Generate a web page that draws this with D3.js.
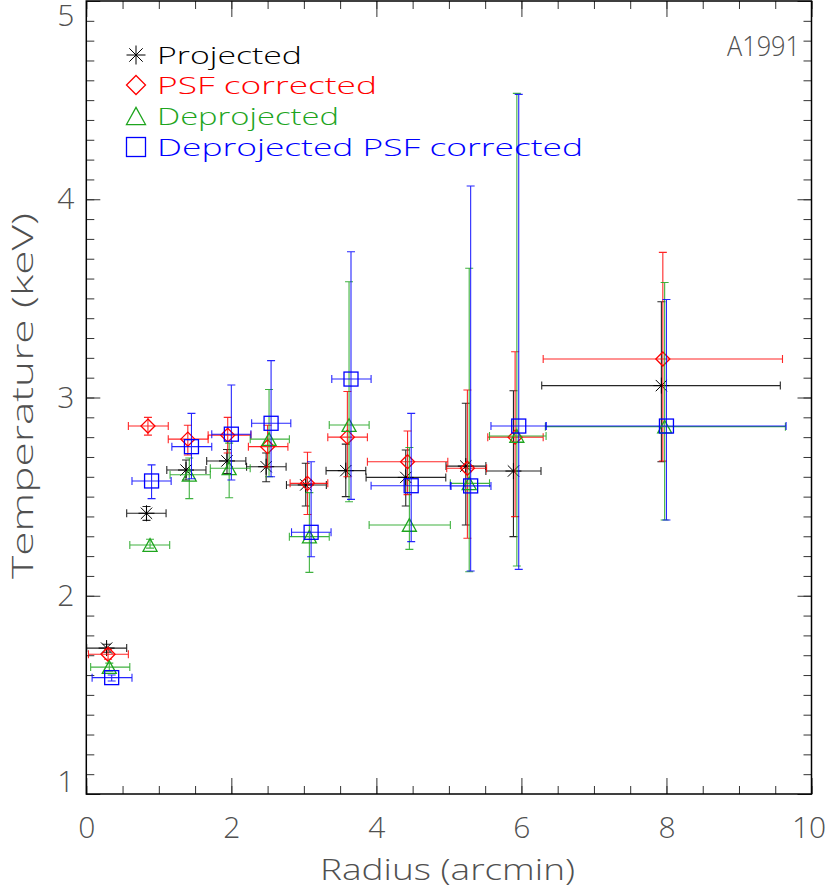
<!DOCTYPE html>
<html>
<head>
<meta charset="utf-8">
<script src="https://cdn.jsdelivr.net/npm/d3@7"></script>
<style>
  body { margin: 0; background: #fff; }
  svg text { font-family: "Open Sans", "DejaVu Sans", sans-serif; font-weight: 300; }
</style>
</head>
<body>
<svg id="chart" width="830" height="890"></svg>
<script>
// ---- data ----
var seriesNames = ["Projected", "PSF corrected", "Deprojected", "Deprojected PSF corrected"];
var seriesColors = ["#000000", "#ff0000", "#1ea51e", "#0000ff"];
var seriesSymbols = ["asterisk", "diamond", "triangle", "square"];

// Projected
var projX   = [0.28, 0.83, 1.375, 1.94, 2.48, 3.026, 3.578, 4.405, 5.233, 5.89, 7.93];
var projXlo = [0.005, 0.557, 1.11, 1.66, 2.21, 2.76, 3.306, 3.858, 4.96, 5.51, 6.28];
var projXhi = [0.557, 1.10, 1.65, 2.20, 2.755, 3.31, 3.854, 4.957, 5.51, 6.27, 9.57];
var projT   = [1.736, 2.416, 2.634, 2.68, 2.651, 2.559, 2.631, 2.597, 2.654, 2.629, 3.06];
var projTlo = [1.715, 2.38, 2.584, 2.617, 2.575, 2.453, 2.50, 2.453, 2.357, 2.298, 2.676];
var projThi = [1.755, 2.45, 2.685, 2.738, 2.72, 2.668, 2.765, 2.735, 2.971, 3.034, 3.483];

// PSF corrected
var psfX   = [0.30, 0.85, 1.40, 1.95, 2.50, 3.05, 3.60, 4.43, 5.255, 5.913, 7.95];
var psfXlo = [0.03, 0.58, 1.13, 1.68, 2.235, 2.81, 3.33, 3.876, 4.97, 5.536, 6.30];
var psfXhi = [0.58, 1.13, 1.68, 2.27, 2.78, 3.33, 3.876, 4.985, 5.52, 6.30, 9.60];
var psfT   = [1.705, 2.856, 2.79, 2.81, 2.752, 2.567, 2.80, 2.676, 2.643, 2.80, 3.194];
var psfTlo = [1.68, 2.81, 2.71, 2.72, 2.65, 2.41, 2.60, 2.51, 2.29, 2.399, 2.68];
var psfThi = [1.73, 2.90, 2.86, 2.90, 2.86, 2.724, 3.03, 2.831, 3.038, 3.231, 3.732];

// Deprojected
var depX   = [0.317, 0.879, 1.42, 1.97, 2.52, 3.076, 3.623, 4.455, 5.28, 5.937, 7.975];
var depXlo = [0.06, 0.60, 1.155, 1.71, 2.26, 2.80, 3.35, 3.90, 5.02, 5.56, 6.33];
var depXhi = [0.60, 1.15, 1.71, 2.26, 2.80, 3.35, 3.90, 5.02, 5.56, 6.34, 9.64];
var depT   = [1.64, 2.256, 2.61, 2.643, 2.79, 2.298, 2.861, 2.357, 2.567, 2.806, 2.853];
var depTlo = [1.62, 2.24, 2.49, 2.494, 2.60, 2.118, 2.474, 2.234, 2.121, 2.15, 2.382];
var depThi = [1.66, 2.285, 2.695, 2.77, 3.04, 2.52, 3.584, 2.748, 3.652, 4.534, 3.58];

// Deprojected PSF corrected
var dpsfX   = [0.35, 0.90, 1.45, 2.0, 2.548, 3.10, 3.65, 4.48, 5.30, 5.963, 8.0];
var dpsfXlo = [0.08, 0.63, 1.18, 1.73, 2.28, 2.83, 3.385, 3.927, 5.03, 5.58, 6.34];
var dpsfXhi = [0.63, 1.17, 1.73, 2.27, 2.82, 3.375, 3.927, 5.02, 5.58, 6.34, 9.65];
var dpsfT   = [1.587, 2.579, 2.752, 2.815, 2.87, 2.32, 3.093, 2.555, 2.554, 2.856, 2.856];
var dpsfTlo = [1.57, 2.49, 2.59, 2.584, 2.60, 2.197, 2.486, 2.273, 2.125, 2.133, 2.382];
var dpsfThi = [1.60, 2.66, 2.92, 3.063, 3.186, 2.676, 3.735, 2.92, 4.067, 4.529, 3.494];

var xTicks = [0, 2, 4, 6, 8, 10];
var yTicks = [1, 2, 3, 4, 5];

function pack(x, xlo, xhi, t, tlo, thi) {
    return x.map(function(d, i) {
        return {x: d, xlo: xlo[i], xhi: xhi[i], t: t[i], tlo: tlo[i], thi: thi[i]};
    });
}
var allSeries = [
    pack(projX, projXlo, projXhi, projT, projTlo, projThi),
    pack(psfX, psfXlo, psfXhi, psfT, psfTlo, psfThi),
    pack(depX, depXlo, depXhi, depT, depTlo, depThi),
    pack(dpsfX, dpsfXlo, dpsfXhi, dpsfT, dpsfTlo, dpsfThi)
];

// ---- chart ----
var chart = d3.select("#chart");
var plotLeft = 86.3, plotRight = 811.5, plotTop = 1, plotBottom = 794;

var x = d3.scaleLinear().domain([0, 10]).range([plotLeft, plotRight]);
var y = d3.scaleLinear().domain([1, 5]).range([plotBottom, plotTop]);

var xMinor = d3.range(0, 10.01, 0.5);
var yMinor = d3.range(1, 5.001, 0.1);

function plainAxis(g) {
    g.select(".domain").remove();
    g.selectAll("line").attr("stroke", "#333").attr("stroke-width", 1);
}

// minor ticks
chart.append("g").attr("transform", "translate(0," + plotBottom + ")")
    .call(d3.axisBottom(x).tickValues(xMinor).tickSize(-8).tickFormat("")).call(plainAxis);
chart.append("g").attr("transform", "translate(0," + plotTop + ")")
    .call(d3.axisTop(x).tickValues(xMinor).tickSize(-8).tickFormat("")).call(plainAxis);
chart.append("g").attr("transform", "translate(" + plotLeft + ",0)")
    .call(d3.axisLeft(y).tickValues(yMinor).tickSize(-8).tickFormat("")).call(plainAxis);
chart.append("g").attr("transform", "translate(" + plotRight + ",0)")
    .call(d3.axisRight(y).tickValues(yMinor).tickSize(-8).tickFormat("")).call(plainAxis);

// major ticks
var xAxisGroup = chart.append("g").attr("transform", "translate(0," + plotBottom + ")")
    .call(d3.axisBottom(x).tickValues(xTicks).tickSize(-16).tickPadding(23).tickFormat(d3.format("d")))
    .call(plainAxis);
chart.append("g").attr("transform", "translate(0," + plotTop + ")")
    .call(d3.axisTop(x).tickValues(xTicks).tickSize(-16).tickFormat("")).call(plainAxis);
var yAxisGroup = chart.append("g").attr("transform", "translate(" + plotLeft + ",0)")
    .call(d3.axisLeft(y).tickValues(yTicks).tickSize(-14).tickPadding(12).tickFormat(d3.format("d")))
    .call(plainAxis);
chart.append("g").attr("transform", "translate(" + plotRight + ",0)")
    .call(d3.axisRight(y).tickValues(yTicks).tickSize(-14).tickFormat("")).call(plainAxis);

xAxisGroup.selectAll("text")
    .style("font-size", "30px").attr("fill", "#505050")
    .attr("x", function(d) { return d === 10 ? -3 : 0; });
yAxisGroup.selectAll("text")
    .style("font-size", "30px").attr("fill", "#505050")
    .attr("y", function(d) { return Math.max(16, Math.min(782, y(d))) - y(d); });

// frame
chart.append("rect")
    .attr("x", plotLeft).attr("y", plotTop)
    .attr("width", plotRight - plotLeft).attr("height", plotBottom - plotTop)
    .attr("fill", "none").attr("stroke", "#000").attr("stroke-width", 1.5);

// axis titles
chart.append("text")
    .text("Radius (arcmin)")
    .attr("x", 320).attr("y", 880)
    .attr("textLength", 255).attr("lengthAdjust", "spacingAndGlyphs")
    .style("font-size", "30px").attr("fill", "#505050");

chart.append("text")
    .text("Temperature (keV)")
    .attr("transform", "translate(33,579) rotate(-90)")
    .attr("textLength", 366).attr("lengthAdjust", "spacingAndGlyphs")
    .style("font-size", "30px").attr("fill", "#505050");

chart.append("text")
    .text("A1991")
    .attr("x", 727).attr("y", 56)
    .attr("textLength", 73).attr("lengthAdjust", "spacingAndGlyphs")
    .style("font-size", "27px").attr("fill", "#505050");

// symbol drawing
function drawSymbol(g, kind, cx, cy, s, color) {
    if (kind === "asterisk") {
        var d = s * 0.7071;
        g.append("path")
            .attr("d", "M" + (cx - s) + "," + cy + "H" + (cx + s) +
                       "M" + cx + "," + (cy - s) + "V" + (cy + s) +
                       "M" + (cx - d) + "," + (cy - d) + "L" + (cx + d) + "," + (cy + d) +
                       "M" + (cx - d) + "," + (cy + d) + "L" + (cx + d) + "," + (cy - d))
            .attr("stroke", color).attr("stroke-width", 1).attr("fill", "none");
    } else if (kind === "diamond") {
        g.append("path")
            .attr("d", "M" + cx + "," + (cy - s) + "L" + (cx + s) + "," + cy +
                       "L" + cx + "," + (cy + s) + "L" + (cx - s) + "," + cy + "Z")
            .attr("stroke", color).attr("stroke-width", 1.3).attr("fill", "none");
    } else if (kind === "triangle") {
        g.append("path")
            .attr("d", "M" + (cx - s) + "," + (cy + s * 0.9) + "L" + cx + "," + (cy - s * 0.9) +
                       "L" + (cx + s) + "," + (cy + s * 0.9) + "Z")
            .attr("stroke", color).attr("stroke-width", 1.3).attr("fill", "none");
    } else {
        g.append("rect")
            .attr("x", cx - s).attr("y", cy - s)
            .attr("width", 2 * s).attr("height", 2 * s)
            .attr("stroke", color).attr("stroke-width", 1.3).attr("fill", "none");
    }
}

// error bars + symbols
var cap = 4;
allSeries.forEach(function(data, k) {
    var color = seriesColors[k];
    var g = chart.append("g").attr("class", "series");
    data.forEach(function(d) {
        var cx = x(d.x), cy = y(d.t);
        var path = "M" + x(d.xlo) + "," + cy + "H" + x(d.xhi) +
                   "M" + x(d.xlo) + "," + (cy - cap) + "V" + (cy + cap) +
                   "M" + x(d.xhi) + "," + (cy - cap) + "V" + (cy + cap) +
                   "M" + cx + "," + y(d.tlo) + "V" + y(d.thi) +
                   "M" + (cx - cap) + "," + y(d.tlo) + "H" + (cx + cap) +
                   "M" + (cx - cap) + "," + y(d.thi) + "H" + (cx + cap);
        g.append("path").attr("d", path)
            .attr("stroke", color).attr("stroke-width", 1.1).attr("fill", "none")
            .attr("opacity", 0.85);
        drawSymbol(g, seriesSymbols[k], cx, cy, k === 0 ? 8 : 7, color);
    });
});

// legend
var legendY = [55, 85, 116, 147];
var legendLen = [145, 220, 182, 426];
seriesNames.forEach(function(name, k) {
    var g = chart.append("g").attr("class", "legend");
    drawSymbol(g, seriesSymbols[k], 136, legendY[k], 9.5, seriesColors[k]);
    g.append("text")
        .text(name)
        .attr("x", 157).attr("y", legendY[k] + 9)
        .attr("textLength", legendLen[k]).attr("lengthAdjust", "spacingAndGlyphs")
        .style("font-size", "24px")
        .attr("fill", seriesColors[k]);
});
</script>
</body>
</html>
